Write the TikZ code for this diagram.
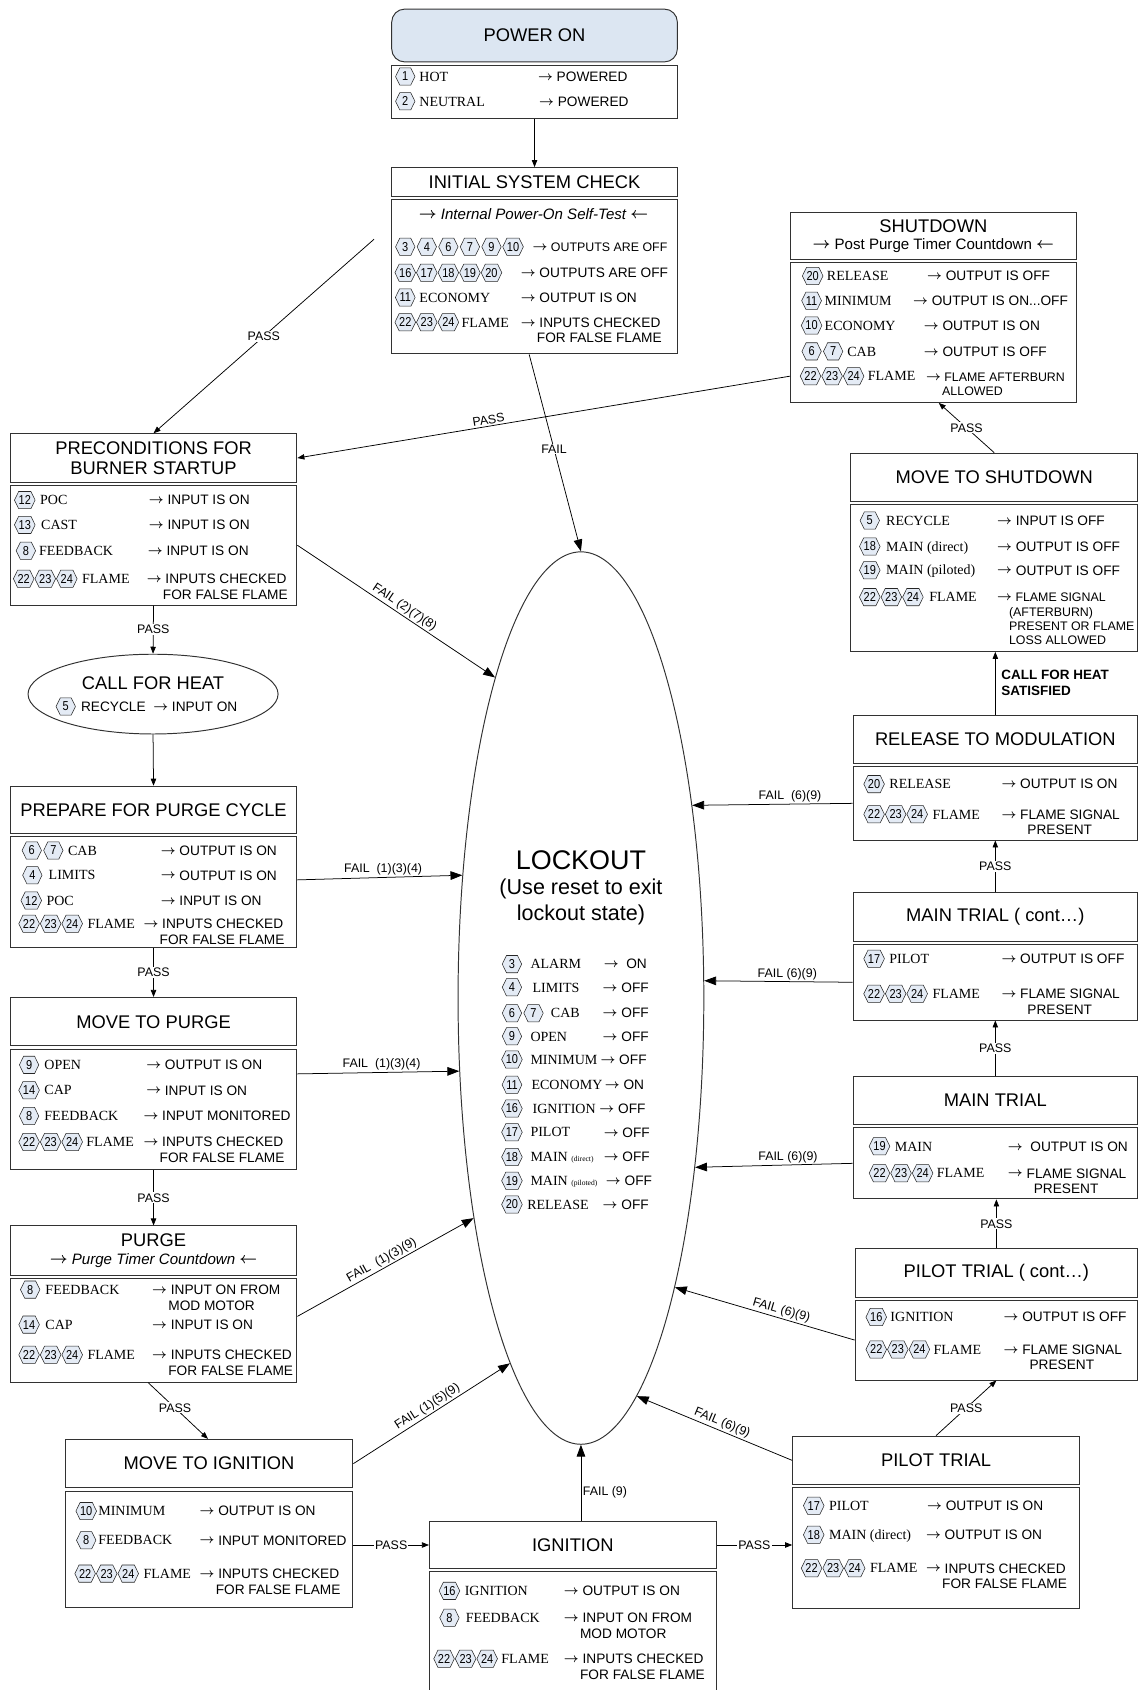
\documentclass[tikz,border=0pt]{standalone}
\usepackage{fontspec}
\setmainfont{Liberation Sans}
\newfontfamily\lblfam{Liberation Serif}
\newfontfamily\hexfam{Liberation Sans}[FakeStretch=0.85]
\usetikzlibrary{positioning,calc,shapes.geometric,shapes.symbols,arrows.meta}

\definecolor{hexfill}{RGB}{228,235,245}
\definecolor{pwrfill}{RGB}{220,230,242}
\definecolor{edge}{RGB}{50,50,50}

\newcommand\ttlfont{\fontsize{17}{19}\selectfont}
\newcommand\subfont{\fontsize{14}{16}\selectfont}
\newcommand\valfont{\fontsize{12.7}{14.5}\selectfont}
\newcommand\sm{\fontsize{11.5}{13}\selectfont}
\newcommand\lblfont{\lblfam\fontsize{13}{15}\selectfont}
\newcommand\hexnum{\hexfam\fontsize{12}{12}\selectfont}
\newcommand\edgefont{\fontsize{11.5}{13}\selectfont}
\newcommand\ra{\raisebox{0.08em}{\boldmath$\rightarrow$}\ }
\newcommand\la{\raisebox{0.08em}{\boldmath$\leftarrow$}}
\newcommand\ind{\hspace*{15pt}}
\newcommand\indp{\hspace*{24pt}}
\newcommand\ml[1]{\begin{tabular}[t]{@{}l@{}}#1\end{tabular}}

\tikzset{
  ttl/.style={draw=edge, line width=0.9pt, anchor=north west, inner sep=2pt,
              align=center, font=\ttlfont},
  bdy/.style={draw=edge, line width=0.9pt, anchor=north west, inner sep=0pt},
  hex/.style={signal, signal to=west and east, signal pointer angle=128,
              draw=black!85, fill=hexfill, line width=0.5pt, inner xsep=0pt,
              inner ysep=0pt, minimum height=16pt, minimum width=18pt, font=\hexnum},
  lbl/.style={anchor=base west, inner sep=0pt, font=\lblfont},
  val/.style={anchor=base west, inner sep=0pt, font=\valfont},
  pass/.style={-{Triangle[length=6.5pt,width=5pt]}, line width=0.7pt},
  fail/.style={-{Triangle[length=11pt,width=8pt]}, line width=0.7pt},
  passlab/.style={font=\edgefont, fill=white, inner sep=1pt},
  faillab/.style={font=\edgefont, inner sep=1.5pt},
}

% state: name, x, top, width, title height, body height, title
\newcommand\stnode[7]{%
  \node[ttl, minimum width=#4, minimum height=#5] (#1) at (#2,#3) {#7};
  \node[bdy, minimum width=#4, minimum height=#6] (#1-b) at ([yshift=-2pt]#1.south west) {};
}
% row: name, hex x, y, hexes, label x, label, value x, value
\newcommand\srow[8]{%
  \foreach \n [count=\i from 0] in {#4}
    \node[hex] (#1-h\i) at ({#2+20*\i},#3) {\n};
  \node[lbl] (#1-l) at (#5,{#3+4.4}) {#6};
  \node[val] (#1-v) at (#7,{#3+4.5}) {\ml{#8}};
}

\begin{document}
\begin{tikzpicture}[x=1pt,y=-1pt]
  \useasboundingbox (0,0) rectangle (1056,1568);

  % power on
  \node[ttl, rounded corners=12pt, fill=pwrfill, minimum width=265, minimum height=49] (po) at (363,8) {POWER ON};
  \node[bdy, minimum width=265, minimum height=50] (po-b) at ([yshift=-2pt]po.south west) {};
  \srow{po1}{376}{71}{1}{389}{HOT}{499}{\ra POWERED}
  \srow{po2}{376}{94}{2}{389}{NEUTRAL}{500}{\ra POWERED}

  % initial check
  \stnode{ini}{363}{155}{265}{27}{143}{INITIAL SYSTEM CHECK}
  \node[font=\subfont\itshape] (ini-st) at (495,199) {\ra Internal Power-On Self-Test \la};
  \srow{ini1}{376}{229}{3,4,6,7,9,10}{490}{}{494}{\sm\ra OUTPUTS ARE OFF}
  \srow{ini2}{376}{253}{16,17,18,19,20}{470}{}{483}{\ra OUTPUTS ARE OFF}
  \srow{ini3}{376}{276}{11}{389}{ECONOMY}{483}{\ra OUTPUT IS ON}
  \srow{ini4}{376}{299}{22,23,24}{428}{FLAME}{483}{\ra INPUTS CHECKED\\\ind FOR FALSE FLAME}

  % shutdown
  \stnode{sd}{733}{197}{265}{43}{130}{SHUTDOWN\\[-3pt]{\subfont\ra Post Purge Timer Countdown \la}}
  \srow{sd1}{754}{256}{20}{767}{RELEASE}{860}{\ra OUTPUT IS OFF}
  \srow{sd2}{753}{279}{11}{765}{MINIMUM}{847}{\ra OUTPUT IS ON...OFF}
  \srow{sd3}{753}{302}{10}{765}{ECONOMY}{857}{\ra OUTPUT IS ON}
  \srow{sd4}{753}{326}{6,7}{786}{CAB}{857}{\ra OUTPUT IS OFF}
  \srow{sd5}{752}{349}{22,23,24}{805}{FLAME}{859}{\sm\ra FLAME AFTERBURN\\[-1.5pt]\sm\ind ALLOWED}

  % move to shutdown
  \stnode{mts}{789}{420}{266}{45}{136}{MOVE TO SHUTDOWN}
  \srow{mts1}{807}{483}{5}{822}{RECYCLE}{925}{\ra INPUT IS OFF}
  \srow{mts2}{807}{507}{18}{822}{MAIN (direct)}{925}{\ra OUTPUT IS OFF}
  \srow{mts3}{807}{529}{19}{822}{MAIN (piloted)}{925}{\ra OUTPUT IS OFF}
  \srow{mts4}{807}{554}{22,23,24}{862}{FLAME}{925}{\sm\ra FLAME SIGNAL\\[-1.2pt]\sm\hspace*{11pt}(AFTERBURN)\\[-1.2pt]\sm\hspace*{11pt}PRESENT OR FLAME\\[-1.2pt]\sm\hspace*{11pt}LOSS ALLOWED}

  % release to modulation
  \stnode{rtm}{791}{663}{264}{45}{68}{RELEASE TO MODULATION}
  \srow{rtm1}{811}{727.5}{20}{825}{RELEASE}{929}{\ra OUTPUT IS ON}
  \srow{rtm2}{811}{755.5}{22,23,24}{865}{FLAME}{929}{\ra FLAME SIGNAL\\\indp PRESENT}

  % main trial (cont)
  \stnode{mtc}{791}{828}{264}{45}{70}{MAIN TRIAL ( cont…)}
  \srow{mtc1}{811}{889.5}{17}{825}{PILOT}{929}{\ra OUTPUT IS OFF}
  \srow{mtc2}{811}{922}{22,23,24}{865}{FLAME}{929}{\ra FLAME SIGNAL\\\indp PRESENT}

  % main trial
  \stnode{mt}{791}{998}{264}{45}{66}{MAIN TRIAL}
  \srow{mt1}{816}{1063.5}{19}{830}{MAIN}{935}{\ra\ OUTPUT IS ON}
  \srow{mt2}{816}{1088.5}{22,23,24}{869}{FLAME}{935}{\ra FLAME SIGNAL\\\indp PRESENT}

  % pilot trial (cont)
  \stnode{ptc}{793}{1158}{262}{45}{74}{PILOT TRIAL ( cont…)}
  \srow{ptc1}{813}{1222}{16}{826}{IGNITION}{931}{\ra OUTPUT IS OFF}
  \srow{ptc2}{813}{1252}{22,23,24}{866}{FLAME}{931}{\ra FLAME SIGNAL\\\indp PRESENT}

  % pilot trial
  \stnode{pt}{735}{1332}{266}{45}{112}{PILOT TRIAL}
  \srow{pt1}{755}{1397}{17}{769}{PILOT}{860}{\ra OUTPUT IS ON}
  \srow{pt2}{755}{1424}{18}{769}{MAIN (direct)}{859}{\ra OUTPUT IS ON}
  \srow{pt3}{753}{1455}{22,23,24}{807}{FLAME}{859}{\ra INPUTS CHECKED\\\ind FOR FALSE FLAME}

  % ignition
  \stnode{ign}{398}{1411}{266}{44}{110}{IGNITION}
  \srow{ign1}{417}{1476}{16}{431}{IGNITION}{523}{\ra OUTPUT IS ON}
  \srow{ign2}{417}{1501}{8}{432}{FEEDBACK}{523}{\ra INPUT ON FROM\\\ind MOD MOTOR}
  \srow{ign3}{412}{1539}{22,23,24}{465}{FLAME}{523}{\ra INPUTS CHECKED\\\ind FOR FALSE FLAME}

  % move to ignition
  \stnode{mti}{60}{1335}{267}{45}{108}{MOVE TO IGNITION}
  \srow{mti1}{80}{1402}{10}{91}{MINIMUM}{185}{\ra OUTPUT IS ON}
  \srow{mti2}{80}{1429}{8}{91}{FEEDBACK}{185}{\ra INPUT MONITORED}
  \srow{mti3}{79}{1460}{22,23,24}{133}{FLAME}{185}{\ra INPUTS CHECKED\\\ind FOR FALSE FLAME}

  % purge
  \stnode{pur}{9}{1137}{266}{46}{96}{PURGE\\[-3pt]{\subfont\itshape\ra Purge Timer Countdown \la}}
  \srow{pur1}{28}{1196.5}{8}{42}{FEEDBACK}{141}{\ra INPUT ON FROM\\\ind MOD MOTOR}
  \srow{pur2}{27}{1229}{14}{42}{CAP}{141}{\ra INPUT IS ON}
  \srow{pur3}{27}{1257}{22,23,24}{81}{FLAME}{141}{\ra INPUTS CHECKED\\\ind FOR FALSE FLAME}

  % move to purge
  \stnode{mtp}{9}{925}{266}{45}{112}{MOVE TO PURGE}
  \srow{mtp1}{27}{988}{9}{41}{OPEN}{135.5}{\ra OUTPUT IS ON}
  \srow{mtp2}{27}{1011.5}{14}{41}{CAP}{135.5}{\ra INPUT IS ON}
  \srow{mtp3}{27}{1035.5}{8}{41}{FEEDBACK}{133}{\ra INPUT MONITORED}
  \srow{mtp4}{27}{1059.5}{22,23,24}{80}{FLAME}{133}{\ra INPUTS CHECKED\\\ind FOR FALSE FLAME}

  % prepare for purge
  \stnode{prep}{9}{729}{266}{44}{103}{PREPARE FOR PURGE CYCLE}
  \srow{prep1}{29.5}{789}{6,7}{63}{CAB}{149}{\ra OUTPUT IS ON}
  \srow{prep2}{30}{812}{4}{45}{LIMITS}{149}{\ra OUTPUT IS ON}
  \srow{prep3}{29}{835.5}{12}{43}{POC}{149}{\ra INPUT IS ON}
  \srow{prep4}{27}{857}{22,23,24}{81}{FLAME}{133}{\ra INPUTS CHECKED\\\ind FOR FALSE FLAME}

  % call for heat
  \node[ellipse, draw=edge, line width=0.9pt, minimum width=232, minimum height=74, inner sep=0pt] (cfh) at (142,644) {};
  \node[font=\ttlfont] (cfh-t) at (142,634) {CALL FOR HEAT};
  \node[hex] (cfh-h0) at (61,655.5) {5};
  \node[val] (cfh-v) at (75,660) {RECYCLE\ \ \ra INPUT ON};

  % preconditions
  \stnode{pre}{9}{402}{266}{45}{111}{PRECONDITIONS FOR\\BURNER STARTUP}
  \srow{pre1}{23}{464}{12}{37}{POC}{138}{\ra INPUT IS ON}
  \srow{pre2}{23}{487}{13}{38}{CAST}{138}{\ra INPUT IS ON}
  \srow{pre3}{24}{511}{8}{36}{FEEDBACK}{137}{\ra INPUT IS ON}
  \srow{pre4}{22}{537}{22,23,24}{76}{FLAME}{136}{\ra INPUTS CHECKED\\\ind FOR FALSE FLAME}

  % lockout
  \node[ellipse, draw=edge, line width=0.9pt, minimum width=228, minimum height=828, inner sep=0pt] (lock) at (539,926) {};
  \node[font=\fontsize{25}{28}\selectfont] (lock-t) at (539,798) {LOCKOUT};
  \node[font=\fontsize{20}{24.5}\selectfont, align=center] (lock-s) at (539,837) {(Use reset to exit\\lockout state)};
  \srow{lk1}{475}{894.5}{3}{492}{ALARM}{560}{\ra\ ON}
  \srow{lk2}{475}{916}{4}{494}{LIMITS}{559}{\ra OFF}
  \srow{lk3}{475}{940}{6,7}{511}{CAB}{559}{\ra OFF}
  \srow{lk4}{475}{961.5}{9}{492}{OPEN}{559}{\ra OFF}
  \srow{lk5}{475}{983}{10}{492}{MINIMUM}{557}{\ra OFF}
  \srow{lk6}{475}{1006.5}{11}{493}{ECONOMY}{561}{\ra ON}
  \srow{lk7}{475}{1028.5}{16}{494}{IGNITION}{556}{\ra OFF}
  \srow{lk8}{475}{1050.5}{17}{492}{PILOT}{560}{\ra OFF}
  \srow{lk9}{475}{1073.5}{18}{492}{MAIN {\fontsize{7}{8}\selectfont (direct)}}{560}{\ra OFF}
  \srow{lk10}{475}{1095.5}{19}{492}{MAIN {\fontsize{7}{8}\selectfont (piloted)}}{562}{\ra OFF}
  \srow{lk11}{475}{1117.5}{20}{489}{RELEASE}{559}{\ra OFF}

  % connectors
  \coordinate (ini-pass) at (347,222);
  \draw[pass] (po-b.south) -- (ini.north);
  \draw[pass] (ini-pass) -- node[passlab] {PASS} (pre.north);
  \draw[fail] ([xshift=-5pt]ini-b.south) -- node[passlab, pos=.48] {FAIL} (lock.north);
  \draw[pass] (sd-b.west |- sd5-h0) -- node[faillab, sloped, above, pos=.61] {PASS} (pre.east);
  \draw[pass] (mts.north) -- node[passlab] {PASS} ([xshift=5pt]sd-b.south);
  \draw[pass] (rtm.north) -- node[right=2pt, align=left, font=\bfseries\fontsize{12.5}{15}\selectfont] {CALL FOR HEAT\\SATISFIED} (rtm.north |- mts-b.south);
  \draw[pass] (mtc.north) -- node[passlab] {PASS} (rtm-b.south);
  \draw[pass] (mt.north) -- node[passlab] {PASS} (mtc-b.south);
  \draw[pass] (ptc.north) -- node[passlab] {PASS} (ptc.north |- mt-b.south);
  \draw[pass] (pt.north) -- node[passlab] {PASS} (ptc-b.south);
  \draw[pass] (ign.east) -- node[passlab] {PASS} (ign.east -| pt-b.west);
  \draw[pass] (mti-b.east |- ign.west) -- node[passlab] {PASS} (ign.west);
  \draw[pass] ([xshift=-5pt]pur-b.south) -- node[passlab, pos=.45] {PASS} ([xshift=-1pt]mti.north);
  \draw[pass] (mtp-b.south) -- node[passlab] {PASS} (pur.north);
  \draw[pass] (prep-b.south) -- node[passlab] {PASS} (mtp.north);
  \draw[pass] (cfh.south) -- (prep.north);
  \draw[pass] (pre-b.south) -- node[passlab] {PASS} (cfh.north);

  \draw[fail] (pre-b.east) -- node[faillab, sloped, above, pos=.52] {FAIL\ (2)(7)(8)} (lock.105.2);
  \draw[fail] ([yshift=11.5pt]prep-b.east) -- node[faillab, above, pos=.52] {FAIL\ \ (1)(3)(4)} (lock.134.7);
  \draw[fail] ([yshift=33pt]mtp-b.east) -- node[faillab, above, pos=.52] {FAIL\ \ (1)(3)(4)} (lock.211.5);
  \draw[fail] ([yshift=13pt]pur-b.east) -- node[faillab, sloped, above, pos=.5] {FAIL\ \ (1)(3)(9)} (lock.244.6);
  \draw[fail] (mti.east) -- node[faillab, sloped, above, pos=.5] {FAIL\ (1)(5)(9)} (lock.259);
  \draw[fail] (ign.north -| lock.south) -- node[faillab, right, pos=.37] {FAIL (9)} (lock.south);
  \draw[fail] (pt.west) -- node[faillab, sloped, above, pos=.47] {FAIL\ (6)(9)} (lock.278.5);
  \draw[fail] (ptc-b.west) -- node[faillab, sloped, above, pos=.42] {FAIL\ (6)(9)} (lock.288.1);
  \draw[fail] (mt-b.west) -- node[faillab, above, pos=.41] {FAIL\ (6)(9)} (lock.304.9);
  \draw[fail] (mtc-b.west) -- node[faillab, above, pos=.44] {FAIL (6)(9)} (lock.8.7);
  \draw[fail] (rtm-b.west) -- node[faillab, above, pos=.39] {FAIL\ \ (6)(9)} (lock.60.7);

\end{tikzpicture}
\end{document}
